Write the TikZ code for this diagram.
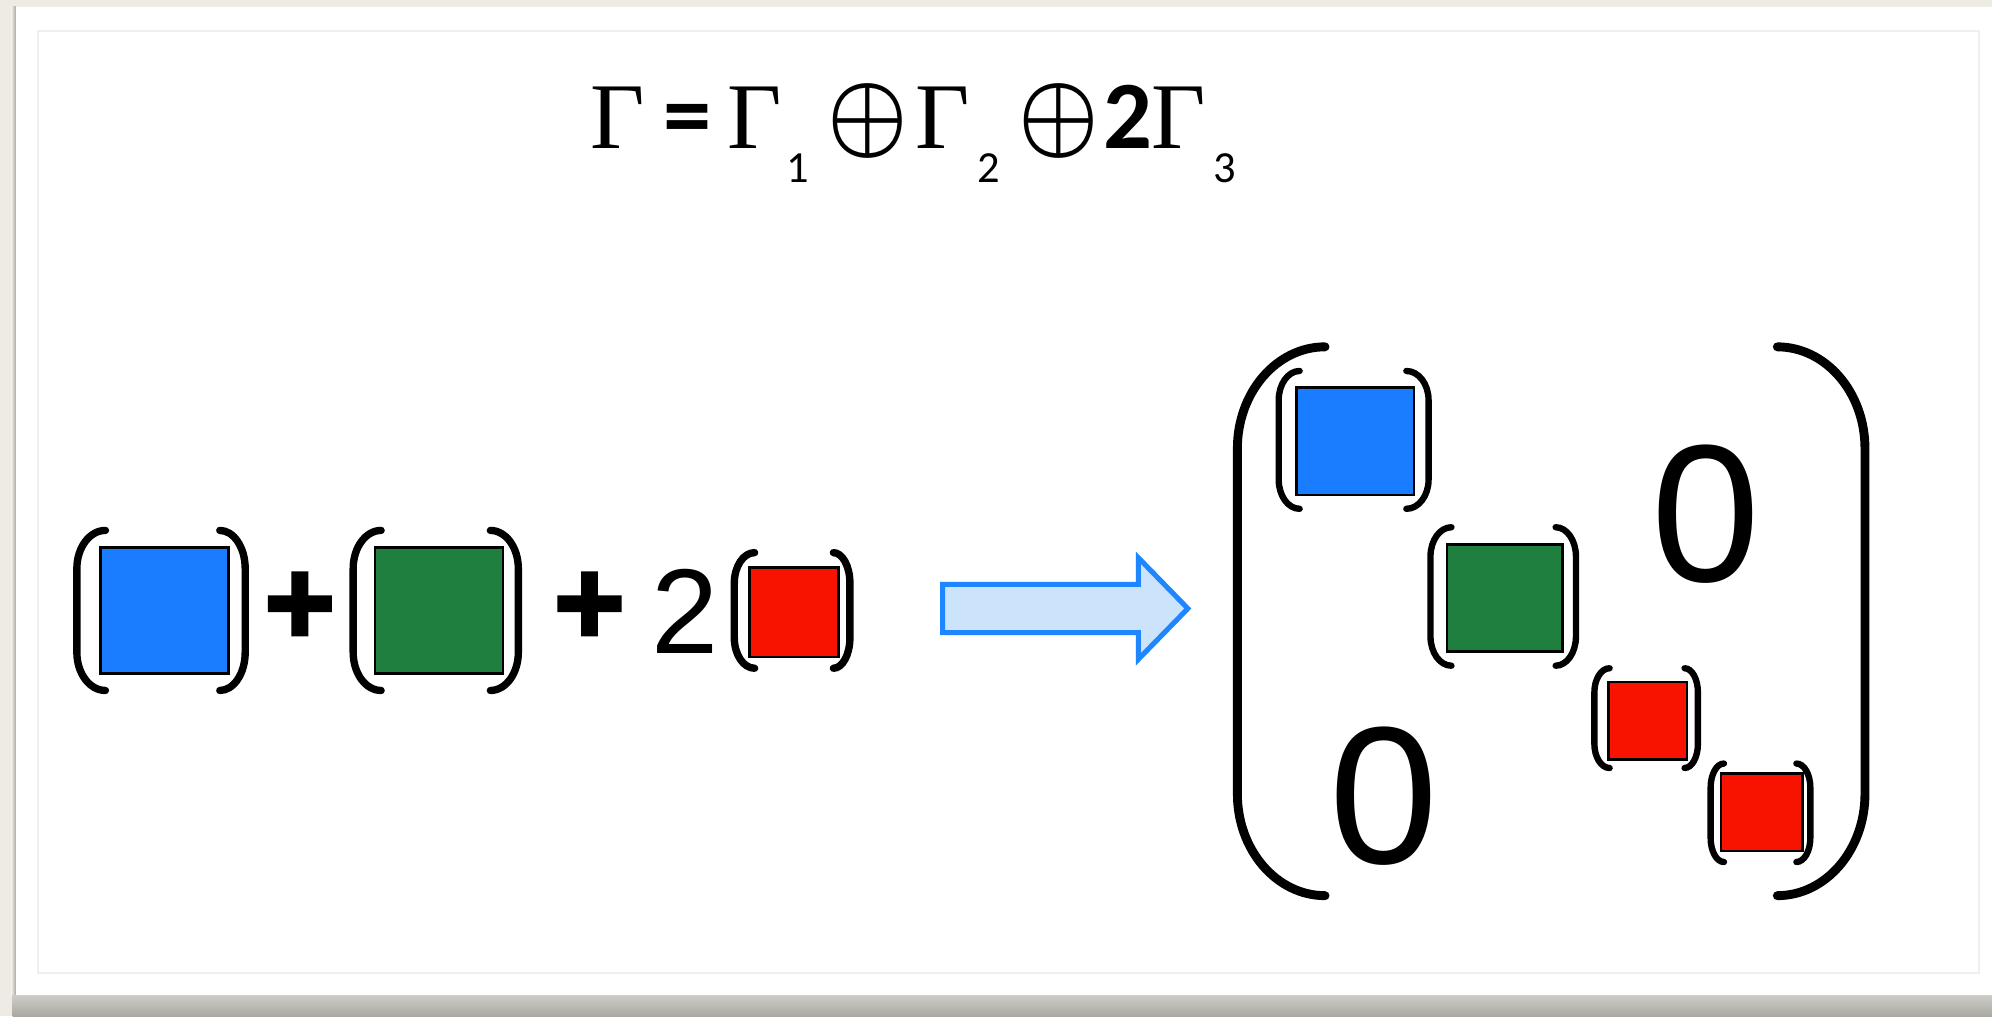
\documentclass[tikz,border=0pt]{standalone}
\usepackage{fontspec}
\setmainfont{Liberation Serif}
\newfontfamily\carl{Carlito}
\newfontfamily\arial{Liberation Sans}
\newfontfamily\plusfam[BoldFeatures={FakeBold=3}]{Liberation Sans}
\definecolor{bgbeige}{HTML}{EEEBE4}
\definecolor{shadowgray}{HTML}{A9A7A1}
\definecolor{shadowlight}{HTML}{CFCDC7}
\definecolor{frameline}{HTML}{EFEFEF}
\definecolor{cblue}{HTML}{1A7DFF}
\definecolor{cgreen}{HTML}{1F7F3F}
\definecolor{cred}{HTML}{F81200}
\definecolor{arrowfill}{HTML}{CCE4FB}
\definecolor{arrowline}{HTML}{1E87FF}
\newcommand{\LPar}[6]{%
 \draw[#6] (#2,#3) .. controls ({#2-0.552*(#2-#1)},#3) and (#1,{#3+0.448*#5}) .. (#1,{#3+#5}) -- (#1,{#4-#5}) .. controls (#1,{#4-0.448*#5}) and ({#2-0.552*(#2-#1)},#4) .. (#2,#4);}
\newcommand{\RPar}[6]{%
 \draw[#6] (#2,#3) .. controls ({#2+0.552*(#1-#2)},#3) and (#1,{#3+0.448*#5}) .. (#1,{#3+#5}) -- (#1,{#4-#5}) .. controls (#1,{#4-0.448*#5}) and ({#2+0.552*(#1-#2)},#4) .. (#2,#4);}
\begin{document}
\begin{tikzpicture}[x=0.5pt,y=-0.5pt,
  box/.style={draw=black, line width=1pt, inner sep=0pt, outer sep=0pt},
  txt/.style={inner sep=0pt, outer sep=0pt, text=black},
  sp/.style={line width=2.9pt, line cap=round, black},
  mp/.style={line width=2.5pt, line cap=round, black},
  bp/.style={line width=3.5pt, line cap=round, black},
  titlefont/.style={font=\fontsize{37pt}{40pt}\selectfont},
  subfont/.style={font=\carl\fontsize{17.5pt}{20pt}\selectfont},
  boldcarl/.style={font=\carl\bfseries\fontsize{38pt}{40pt}\selectfont},
  oplus/.style={font=\fontsize{10pt}{12pt}\selectfont\boldmath},
  plusfont/.style={font=\plusfam\bfseries\fontsize{47.5pt}{50pt}\selectfont},
  digitfont/.style={font=\arial\fontsize{47.5pt}{50pt}\selectfont},
  zerofont/.style={font=\arial\fontsize{77pt}{80pt}\selectfont},
  blockarrow/.style={draw=arrowline, fill=arrowfill, line width=2pt, line join=miter}]
\useasboundingbox (0,0) rectangle (1568,800);
% background and card
\fill[bgbeige] (0,0) rectangle (1568,800);
\shade[top color=shadowlight, bottom color=shadowgray] (10,783) rectangle (1568,800);
\shade[left color=bgbeige, right color=shadowgray] (9,5.5) rectangle (12.5,783);
\fill[white] (12.5,5.5) rectangle (1568,783);
\draw[frameline, line width=0.75pt] (30,24.4) rectangle (1558,766);
% title
\node[txt, titlefont, anchor=base west] (G0) at (465,117) {Γ};
\node[txt, boldcarl, anchor=center] (eq) at (541,99) {=};
\node[txt, titlefont, anchor=base west] (G1) at (573,117) {Γ};
\node[txt, subfont, anchor=base] (s1) at (628,143.5) {1};
\node[txt, oplus, anchor=center] (op1) at (683.5,95) {\scalebox{3.55}[3.85]{$\oplus$}};
\node[txt, titlefont, anchor=base west] (G2) at (721,117) {Γ};
\node[txt, subfont, anchor=base] (s2) at (778,143.5) {2};
\node[txt, oplus, anchor=center] (op2) at (833.5,95) {\scalebox{3.55}[3.85]{$\oplus$}};
\node[txt, boldcarl, anchor=base] (two) at (888,117) {2};
\node[txt, titlefont, anchor=base west] (G3) at (906,117) {Γ};
\node[txt, subfont, anchor=base] (s3) at (964,143.5) {3};
% left expression
\node[box, fill=cblue, minimum width=50.5pt, minimum height=49.5pt] (b1) at (129.5,480.5) {};
\LPar{60.5}{83}{417.5}{543.5}{30}{sp}
\RPar{193}{173}{417.5}{543.5}{30}{sp}
\node[txt, plusfont, anchor=center] (p1) at (236,479) {+};
\node[box, fill=cgreen, minimum width=50.5pt, minimum height=49.5pt] (g1) at (345.5,480.5) {};
\LPar{278}{300}{417.5}{543.5}{30}{sp}
\RPar{408}{386}{417.5}{543.5}{30}{sp}
\node[txt, plusfont, anchor=center] (p2) at (464,479) {+};
\node[txt, digitfont, anchor=base] (k2) at (539,514) {2};
\node[box, fill=cred, minimum width=35pt, minimum height=35.25pt] (r1) at (625,481.75) {};
\LPar{578}{594}{435}{526}{24}{sp}
\RPar{669}{656}{435}{526}{24}{sp}
% block arrow
\draw[blockarrow] (742,460) -- (896,460) -- (896,439) -- (935,479) -- (896,519) -- (896,498) -- (742,498) -- cycle;
% matrix
\LPar{974}{1043}{273}{705}{80}{bp}
\RPar{1468}{1399}{273}{705}{80}{bp}
\node[box, fill=cblue, minimum width=46.25pt, minimum height=42.3pt] (bm) at (1066.75,347.3) {};
\LPar{1006.5}{1023}{292}{400.5}{23}{mp}
\RPar{1124.5}{1107}{292}{400.5}{23}{mp}
\node[box, fill=cgreen, minimum width=45.5pt, minimum height=42.25pt] (gm) at (1184.5,470.75) {};
\LPar{1126}{1142.5}{415}{524}{23}{mp}
\RPar{1240.5}{1224.5}{415}{524}{23}{mp}
\node[box, fill=cred, minimum width=31pt, minimum height=30.5pt] (rm1) at (1297,567.5) {};
\LPar{1255}{1267}{526}{604.5}{19}{mp}
\RPar{1336.5}{1326}{526}{604.5}{19}{mp}
\node[box, fill=cred, minimum width=32.25pt, minimum height=30.5pt] (rm2) at (1386.75,639.5) {};
\LPar{1346.5}{1357}{601}{678.5}{19}{mp}
\RPar{1425}{1414}{601}{678.5}{19}{mp}
\node[txt, zerofont, anchor=base] (z1) at (1343,457.5) {0};
\node[txt, zerofont, anchor=base] (z2) at (1089.5,679.5) {0};
\end{tikzpicture}
\end{document}
